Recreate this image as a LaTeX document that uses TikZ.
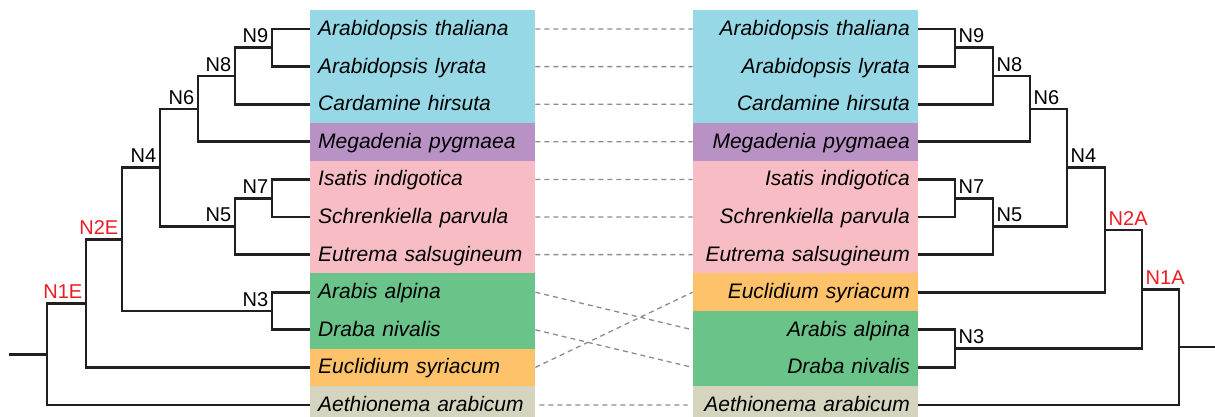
\documentclass[tikz,border=0pt]{standalone}
\usepackage{fontspec}
\setmainfont{Liberation Sans}
\definecolor{cblue}{RGB}{150,216,230}
\definecolor{cpurple}{RGB}{184,146,196}
\definecolor{cpink}{RGB}{248,189,196}
\definecolor{cgreen}{RGB}{106,195,137}
\definecolor{corange}{RGB}{253,194,106}
\definecolor{cgrey}{RGB}{213,212,190}
\definecolor{nodered}{RGB}{237,28,36}
\definecolor{branchcol}{RGB}{35,31,32}
\definecolor{linkgrey}{RGB}{140,140,140}
\begin{document}
\begin{tikzpicture}[x=1pt, y=-1pt, line join=miter,
	branch/.style={draw=branchcol, line width=2.7pt},
	link/.style={draw=linkgrey, line width=1.3pt, dash pattern=on 5pt off 4pt, shorten <=4pt, shorten >=5pt},
	taxon/.style={fill=#1, font=\fontsize{21}{25}\selectfont\itshape, minimum height=37.6pt, text width=209pt, inner xsep=8pt, inner ysep=0pt, text height=15.5pt, text depth=2.5pt},
	ltaxon/.style={taxon=#1, anchor=west, align=left},
	rtaxon/.style={taxon=#1, anchor=east, align=right},
	lab/.style={font=\fontsize{20}{24}\selectfont, inner xsep=3.5pt, inner ysep=4.5pt},
	llab/.style={lab, anchor=south east},
	rlab/.style={lab, anchor=south west}]
	\useasboundingbox (0,0) rectangle (1215,416);
	\path (310,29)node[ltaxon=cblue](lat){Arabidopsis thaliana}
	(310,66.6)node[ltaxon=cblue](lal){Arabidopsis lyrata}
	(310,104.2)node[ltaxon=cblue](lch){Cardamine hirsuta}
	(310,141.8)node[ltaxon=cpurple](lmp){Megadenia pygmaea}
	(310,179.4)node[ltaxon=cpink](lii){Isatis indigotica}
	(310,217)node[ltaxon=cpink](lsp){Schrenkiella parvula}
	(310,254.6)node[ltaxon=cpink](les){Eutrema salsugineum}
	(310,292.2)node[ltaxon=cgreen](laa){Arabis alpina}
	(310,329.8)node[ltaxon=cgreen](ldn){Draba nivalis}
	(310,367.4)node[ltaxon=corange](leu){Euclidium syriacum}
	(310,405)node[ltaxon=cgrey](lae){Aethionema arabicum};
	\path (918,29)node[rtaxon=cblue](rat){Arabidopsis thaliana}
	(918,66.6)node[rtaxon=cblue](ral){Arabidopsis lyrata}
	(918,104.2)node[rtaxon=cblue](rch){Cardamine hirsuta}
	(918,141.8)node[rtaxon=cpurple](rmp){Megadenia pygmaea}
	(918,179.4)node[rtaxon=cpink](rii){Isatis indigotica}
	(918,217)node[rtaxon=cpink](rsp){Schrenkiella parvula}
	(918,254.6)node[rtaxon=cpink](res){Eutrema salsugineum}
	(918,292.2)node[rtaxon=corange](reu){Euclidium syriacum}
	(918,329.8)node[rtaxon=cgreen](raa){Arabis alpina}
	(918,367.4)node[rtaxon=cgreen](rdn){Draba nivalis}
	(918,405)node[rtaxon=cgrey](rae){Aethionema arabicum};
	\coordinate (lN9) at (272,47.8);
	\coordinate (lN8) at (235,76);
	\coordinate (lN6) at (198,108.9);
	\coordinate (lN7) at (272,198.2);
	\coordinate (lN5) at (235,226.4);
	\coordinate (lN4) at (160,167.65);
	\coordinate (lN3) at (272,311);
	\coordinate (lN2E) at (122,239.3);
	\coordinate (lN1E) at (86,303.35);
	\coordinate (lroot) at (47,354.2);
	\coordinate (lstub) at (9,354.2);
	\coordinate (rN9) at (955,47.8);
	\coordinate (rN8) at (993,76);
	\coordinate (rN6) at (1030,108.9);
	\coordinate (rN7) at (955,198.2);
	\coordinate (rN5) at (993,226.4);
	\coordinate (rN4) at (1067,167.65);
	\coordinate (rN2A) at (1105,229.9);
	\coordinate (rN3) at (955,348.6);
	\coordinate (rN1A) at (1142,289.25);
	\coordinate (rroot) at (1179,347.1);
	\coordinate (rstub) at (1215,347.1);
	\draw[branch] (lN9)|-(lat.west) (lN9)|-(lal.west)
	(lN8)|-(lN9) (lN8)|-(lch.west)
	(lN6)|-(lN8) (lN6)|-(lmp.west)
	(lN7)|-(lii.west) (lN7)|-(lsp.west)
	(lN5)|-(lN7) (lN5)|-(les.west)
	(lN4)|-(lN6) (lN4)|-(lN5)
	(lN3)|-(laa.west) (lN3)|-(ldn.west)
	(lN2E)|-(lN4) (lN2E)|-(lN3)
	(lN1E)|-(lN2E) (lN1E)|-(leu.west)
	(lroot)|-(lN1E) (lroot)|-(lae.west)
	(lstub)--(lroot);
	\draw[branch] (rN9)|-(rat.east) (rN9)|-(ral.east)
	(rN8)|-(rN9) (rN8)|-(rch.east)
	(rN6)|-(rN8) (rN6)|-(rmp.east)
	(rN7)|-(rii.east) (rN7)|-(rsp.east)
	(rN5)|-(rN7) (rN5)|-(res.east)
	(rN4)|-(rN6) (rN4)|-(rN5)
	(rN2A)|-(rN4) (rN2A)|-(reu.east)
	(rN3)|-(raa.east) (rN3)|-(rdn.east)
	(rN1A)|-(rN2A) (rN1A)|-(rN3)
	(rroot)|-(rN1A) (rroot)|-(rae.east)
	(rstub)--(rroot);
	\node[llab] (tlN9) at (lN9) {N9};
	\node[llab] (tlN8) at (lN8) {N8};
	\node[llab] (tlN6) at (lN6) {N6};
	\node[llab] (tlN7) at (lN7) {N7};
	\node[llab] (tlN5) at (lN5) {N5};
	\node[llab] (tlN4) at (lN4) {N4};
	\node[llab] (tlN3) at (lN3) {N3};
	\node[llab, text=nodered] (tlN2E) at (lN2E) {N2E};
	\node[llab, text=nodered] (tlN1E) at (lN1E) {N1E};
	\node[rlab] (trN9) at (rN9) {N9};
	\node[rlab] (trN8) at (rN8) {N8};
	\node[rlab] (trN6) at (rN6) {N6};
	\node[rlab] (trN7) at (rN7) {N7};
	\node[rlab] (trN5) at (rN5) {N5};
	\node[rlab] (trN4) at (rN4) {N4};
	\node[rlab] (trN3) at (rN3) {N3};
	\node[rlab, text=nodered] (trN2A) at (rN2A) {N2A};
	\node[rlab, text=nodered] (trN1A) at (rN1A) {N1A};
	\draw[link] (lat.east)--(rat.west) (lal.east)--(ral.west)
	(lch.east)--(rch.west) (lmp.east)--(rmp.west)
	(lii.east)--(rii.west) (lsp.east)--(rsp.west)
	(les.east)--(res.west) (laa.east)--(raa.west)
	(ldn.east)--(rdn.west) (leu.east)--(reu.west)
	(lae.east)--(rae.west);
\end{tikzpicture}
\end{document}
